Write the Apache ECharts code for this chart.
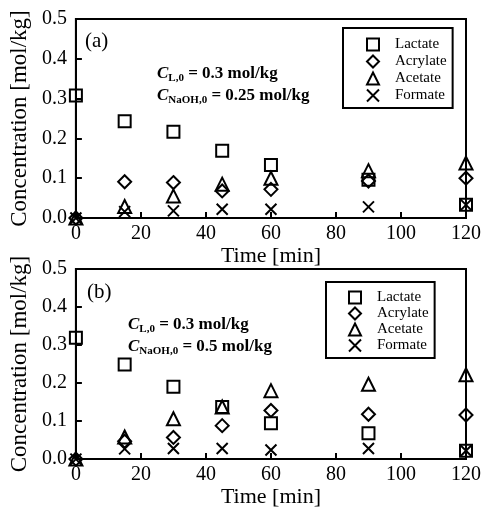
<!DOCTYPE html>
<html>
<head>
<meta charset="utf-8">
<script src="https://cdn.jsdelivr.net/npm/echarts@6/dist/echarts.min.js"></script>
<style>
	html, body{ margin: 0; padding: 0; background: #fff; }
	#chart{ width: 484px; height: 509px; }
</style>
</head>
<body>
<div id="chart"></div>
<script type="text/javascript">
// 时间 [min]
var time = [0, 15, 30, 45, 60, 90, 120];
var xTicks = [0, 20, 40, 60, 80, 100, 120];
var yTicks = [0.0, 0.1, 0.2, 0.3, 0.4, 0.5];
var names = ['Lactate', 'Acrylate', 'Acetate', 'Formate'];

// (a) C_NaOH,0 = 0.25 mol/kg
var lactateA  = [0.308, 0.243, 0.217, 0.169, 0.133, 0.096, 0.033];
var acrylateA = [0.000, 0.091, 0.089, 0.068, 0.072, 0.093, 0.100];
var acetateA  = [0.000, 0.029, 0.055, 0.085, 0.100, 0.119, 0.138];
var formateA  = [0.000, 0.016, 0.018, 0.022, 0.022, 0.028, 0.033];

// (b) C_NaOH,0 = 0.5 mol/kg
var lactateB  = [0.319, 0.249, 0.190, 0.137, 0.094, 0.068, 0.022];
var acrylateB = [0.000, 0.047, 0.057, 0.088, 0.128, 0.118, 0.116];
var acetateB  = [0.000, 0.058, 0.106, 0.137, 0.180, 0.197, 0.222];
var formateB  = [0.000, 0.027, 0.028, 0.028, 0.024, 0.028, 0.022];

var FONT = '"Liberation Serif", "DejaVu Serif", serif';
var symbols = ['rect', 'diamond', 'triangle', 'path://M0,0L10,10M10,0L0,10'];
var sizes = [12, 13, 13, 11];

function pairs(ys){
	var out = [];
	for (var i = 0; i < time.length; i++) {
		out.push([time[i], ys[i]]);
	}
	return out;
}

function makeSeries(idx, lists){
	var list = [];
	for (var k = 0; k < names.length; k++) {
		list.push({
			name: names[k],
			type: 'scatter',
			xAxisIndex: idx,
			yAxisIndex: idx,
			symbol: symbols[k],
			symbolSize: sizes[k],
			clip: false,
			itemStyle: { color: 'rgba(0,0,0,0)', borderColor: '#000', borderWidth: 2, opacity: 1 },
			emphasis: { disabled: true },
			data: pairs(lists[k])
		});
	}
	return list;
}

function xAxisConf(idx, gap){
	return {
		gridIndex: idx, type: 'value', min: xTicks[0], max: xTicks[xTicks.length - 1], interval: 20,
		name: 'Time [min]', nameLocation: 'middle', nameGap: gap,
		nameTextStyle: { fontFamily: FONT, fontSize: 22, color: '#000' },
		axisLine: { show: true, onZero: false, lineStyle: { color: '#000', width: 2 } },
		axisTick: { show: true, inside: true, length: 6, lineStyle: { color: '#000', width: 2 } },
		axisLabel: { fontFamily: FONT, fontSize: 20, color: '#000', margin: 6 },
		splitLine: { show: false }
	};
}

function yAxisConf(idx){
	return {
		gridIndex: idx, type: 'value', min: yTicks[0], max: yTicks[yTicks.length - 1], interval: 0.1,
		name: 'Concentration [mol/kg]', nameLocation: 'middle', nameGap: 38,
		nameTextStyle: { fontFamily: FONT, fontSize: 23, color: '#000' },
		axisLine: { show: true, onZero: false, lineStyle: { color: '#000', width: 2 } },
		axisTick: { show: true, inside: true, length: 6, lineStyle: { color: '#000', width: 2 } },
		axisLabel: { fontFamily: FONT, fontSize: 20, color: '#000', margin: 9,
			formatter: function(v){ return v.toFixed(1); } },
		splitLine: { show: false }
	};
}

function legendConf(left, top, pad, gap, textPad){
	return {
		orient: 'vertical', left: left, top: top, padding: pad, itemGap: gap,
		itemWidth: 12, itemHeight: 12,
		borderColor: '#000', borderWidth: 2, backgroundColor: '#fff',
		selectedMode: false,
		textStyle: { fontFamily: FONT, fontSize: 15, color: '#000', padding: [0, 0, 0, textPad] },
		data: names
	};
}

// C_L,0 式 的富文本
function formula(label, value, left, top){
	return {
		type: 'text', left: left, top: top, z: 10,
		style: {
			text: '{c|C}{s|' + label + '}{t| = ' + value + ' mol/kg}',
			fill: '#000',
			rich: {
				c: { fontFamily: FONT, fontSize: 17, fontStyle: 'italic', fontWeight: 'bold', lineHeight: 20 },
				s: { fontFamily: FONT, fontSize: 11, fontWeight: 'bold', lineHeight: 11, verticalAlign: 'bottom' },
				t: { fontFamily: FONT, fontSize: 17, fontWeight: 'bold', lineHeight: 20 }
			}
		}
	};
}

function panelLabel(txt, left, top){
	return {
		type: 'text', left: left, top: top, z: 10,
		style: { text: txt, fill: '#000', font: '21px ' + FONT }
	};
}

var myChart = echarts.init(document.getElementById('chart'), null, { renderer: 'canvas' });
var option = {
	animation: false,
	backgroundColor: '#fff',
	grid: [
		{ left: 73, top: 19, width: 397, height: 199, show: true, borderColor: '#000', borderWidth: 2, backgroundColor: 'transparent' },
		{ left: 75, top: 269, width: 395, height: 199, show: true, borderColor: '#000', borderWidth: 2, backgroundColor: 'transparent' }
	],
	xAxis: [xAxisConf(0, 5), xAxisConf(1, 12)],
	yAxis: [yAxisConf(0), yAxisConf(1)],
	legend: [
		legendConf(343, 28, [9, 6, 5, 23], 2, 11),
		legendConf(326, 282, [8, 6, 5, 22], 1, 11)
	],
	graphic: [
		panelLabel('(a)', 85, 31),
		formula('L,0', '0.3', 157, 65),
		formula('NaOH,0', '0.25', 157, 87),
		panelLabel('(b)', 87, 282),
		formula('L,0', '0.3', 128, 316),
		formula('NaOH,0', '0.5', 128, 338)
	],
	series: makeSeries(0, [lactateA, acrylateA, acetateA, formateA])
		.concat(makeSeries(1, [lactateB, acrylateB, acetateB, formateB]))
};
myChart.setOption(option);
</script>
</body>
</html>
